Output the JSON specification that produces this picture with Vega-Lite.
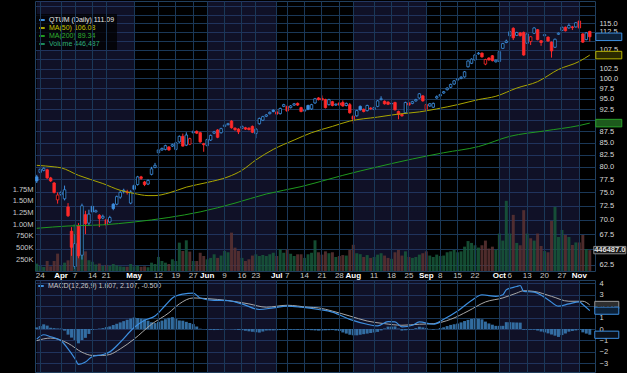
{
"$schema": "https://vega.github.io/schema/vega-lite/v6.json",
"background": "#000000",
"padding": 0,
"spacing": -2,
"config": {
  "view": {"stroke": "#21405f", "strokeWidth": 1},
  "axis": {"labelFont": "Liberation Sans", "labelColor": "#cfcfcf", "labelFontSize": 7.5, "ticks": false, "domain": false, "gridColor": "#1a3858", "gridOpacity": 1, "gridWidth": 1},
  "legend": {"labelFont": "Liberation Sans"},
  "concat": {"spacing": -2}
},
"datasets": {
  "months": [
    {"s": "2025-03-21", "e": "2025-05-01"},
    {"s": "2025-06-02", "e": "2025-07-01"},
    {"s": "2025-08-01", "e": "2025-09-02"},
    {"s": "2025-10-01", "e": "2025-11-03"}
  ],
  "tags": [
    {"d": "2025-11-06", "val": 111.09, "lab": "111.09", "k": "qtum"},
    {"d": "2025-11-06", "val": 106.08, "lab": "106.08", "k": "ma50"},
    {"d": "2025-11-06", "val": 89.34, "lab": "89.34", "k": "ma200"}
  ],
  "vtag": [{"d": "2025-11-06", "v": 446487, "lab": "446487.0"}],
  "mtags": [
    {"d": "2025-11-06", "val": 2.107, "lab": "2.107", "k": "s"},
    {"d": "2025-11-06", "val": 1.607, "lab": "1.607", "k": "m"},
    {"d": "2025-11-06", "val": -0.5, "lab": "-0.500", "k": "h"}
  ],
  "px": [
{"d":"2025-03-21","o":78.0,"h":78.4,"l":76.8,"c":77.2,"v":157000,"hh":0.14,"ma50":80.3,"ma200":68.5,"m":-0.88,"s":-1.02},
{"d":"2025-03-24","o":78.9,"h":79.7,"l":78.7,"c":79.5,"v":107000,"hh":0.26},
{"d":"2025-03-25","o":79.3,"h":79.9,"l":79.1,"c":79.7,"v":86000,"hh":0.41,"m":-0.5},
{"d":"2025-03-26","o":79.4,"h":79.6,"l":77.6,"c":77.8,"v":214000,"hh":0.30},
{"d":"2025-03-27","o":77.8,"h":78.0,"l":77.0,"c":77.2,"v":100000,"hh":0.11,"m":-0.68,"s":-0.79},
{"d":"2025-03-28","o":76.8,"h":77.0,"l":74.8,"c":75.0,"v":214000,"hh":0.08,"ma50":80.0},
{"d":"2025-03-31","o":73.6,"h":75.0,"l":72.9,"c":74.5,"v":371000,"hh":0.05},
{"d":"2025-04-01","o":74.6,"h":75.3,"l":74.3,"c":75.0,"v":107000,"hh":0.05,"ma50":79.8,"m":-1.02},
{"d":"2025-04-02","o":73.8,"h":76.3,"l":73.5,"c":75.5,"v":178000,"hh":-0.14},
{"d":"2025-04-03","o":72.3,"h":73.0,"l":70.5,"c":70.7,"v":228000,"hh":-0.49,"ma200":68.9,"m":-1.74,"s":-1.25},
{"d":"2025-04-04","o":68.0,"h":68.7,"l":63.9,"c":65.3,"v":560000,"hh":-0.75},
{"d":"2025-04-07","o":62.2,"h":67.5,"l":61.8,"c":65.9,"v":1000000,"hh":-0.96,"m":-2.6},
{"d":"2025-04-08","o":68.9,"h":69.4,"l":63.5,"c":63.9,"v":760000,"hh":-1.25,"ma50":78.3,"m":-3.09},
{"d":"2025-04-09","o":64.0,"h":72.9,"l":63.3,"c":72.5,"v":900000,"hh":-0.97,"s":-2.03},
{"d":"2025-04-10","o":70.9,"h":71.6,"l":67.5,"c":69.3,"v":420000,"hh":-0.77,"m":-2.89},
{"d":"2025-04-11","o":69.4,"h":71.8,"l":69.0,"c":71.0,"v":230000,"hh":-0.43},
{"d":"2025-04-14","o":72.4,"h":72.6,"l":71.2,"c":71.4,"v":200000,"hh":-0.09,"m":-2.4,"s":-2.31},
{"d":"2025-04-15","o":71.4,"h":71.8,"l":71.3,"c":71.6,"v":140000,"hh":-0.02},
{"d":"2025-04-16","o":70.8,"h":71.0,"l":68.7,"c":70.2,"v":160000,"hh":0.04},
{"d":"2025-04-17","o":70.3,"h":70.9,"l":70.1,"c":70.6,"v":110000,"hh":0.08,"ma50":76.7,"ma200":69.1,"m":-2.23,"s":-2.31},
{"d":"2025-04-21","o":70.0,"h":70.2,"l":68.4,"c":69.1,"v":130000,"hh":0.17},
{"d":"2025-04-22","o":69.6,"h":70.7,"l":69.4,"c":70.4,"v":110000,"hh":0.23,"m":-2.0,"s":-2.23},
{"d":"2025-04-23","o":72.8,"h":73.0,"l":71.7,"c":72.0,"v":150000,"hh":0.35},
{"d":"2025-04-24","o":72.8,"h":74.4,"l":72.6,"c":74.2,"v":120000,"hh":0.46},
{"d":"2025-04-25","o":74.1,"h":75.3,"l":73.8,"c":75.0,"v":100000,"hh":0.58,"ma50":75.4,"m":-1.16,"s":-1.74},
{"d":"2025-04-28","o":75.2,"h":75.7,"l":74.8,"c":75.4,"v":90000,"hh":0.69},
{"d":"2025-04-29","o":75.1,"h":75.5,"l":74.6,"c":75.0,"v":90000,"hh":0.81},
{"d":"2025-04-30","o":73.0,"h":75.4,"l":72.8,"c":75.1,"v":150000,"hh":0.92},
{"d":"2025-05-01","o":76.3,"h":76.5,"l":75.4,"c":75.6,"v":100000,"hh":1.01,"ma50":74.8,"ma200":69.6,"m":0.13,"s":-0.88},
{"d":"2025-05-02","o":76.5,"h":78.2,"l":76.3,"c":78.0,"v":110000,"hh":0.96},
{"d":"2025-05-05","o":78.0,"h":78.2,"l":77.4,"c":77.7,"v":90000,"hh":0.91},
{"d":"2025-05-06","o":77.0,"h":77.2,"l":76.2,"c":76.5,"v":100000,"hh":0.86,"m":0.76},
{"d":"2025-05-07","o":76.6,"h":77.5,"l":76.4,"c":77.3,"v":80000,"hh":0.73,"ma50":74.4},
{"d":"2025-05-08","o":78.5,"h":80.0,"l":78.3,"c":79.6,"v":178000,"hh":0.59,"s":0.42},
{"d":"2025-05-09","o":79.9,"h":80.8,"l":79.7,"c":80.3,"v":150000,"hh":0.52,"ma50":74.4,"m":1.14},
{"d":"2025-05-12","o":82.9,"h":83.7,"l":82.5,"c":83.5,"v":300000,"hh":0.63},
{"d":"2025-05-13","o":83.5,"h":84.0,"l":83.3,"c":83.8,"v":214000,"hh":0.74},
{"d":"2025-05-14","o":83.6,"h":84.6,"l":83.4,"c":84.4,"v":178000,"hh":0.86,"m":2.08},
{"d":"2025-05-15","o":84.1,"h":84.3,"l":83.3,"c":83.5,"v":150000,"hh":0.98,"ma50":74.9,"ma200":70.4,"s":1.42},
{"d":"2025-05-16","o":84.3,"h":84.8,"l":84.1,"c":84.6,"v":250000,"hh":1.04,"m":2.72},
{"d":"2025-05-19","o":83.6,"h":85.2,"l":83.4,"c":85.0,"v":214000,"hh":0.89},
{"d":"2025-05-20","o":85.2,"h":86.6,"l":85.0,"c":86.4,"v":606000,"hh":0.75,"s":2.2},
{"d":"2025-05-21","o":86.4,"h":87.0,"l":84.2,"c":84.3,"v":428000,"hh":0.73,"m":3.06},
{"d":"2025-05-22","o":84.5,"h":87.3,"l":84.3,"c":86.7,"v":656000,"hh":0.63,"ma50":76.0},
{"d":"2025-05-23","o":84.7,"h":86.1,"l":84.5,"c":85.9,"v":415000,"hh":0.53},
{"d":"2025-05-27","o":87.2,"h":87.8,"l":87.0,"c":87.4,"v":214000,"hh":0.43,"m":3.15,"s":2.72},
{"d":"2025-05-28","o":87.5,"h":87.7,"l":86.9,"c":87.1,"v":214000,"hh":0.22},
{"d":"2025-05-29","o":87.2,"h":87.4,"l":85.0,"c":85.2,"v":390000,"hh":0.03,"ma200":71.4,"m":2.72},
{"d":"2025-05-30","o":84.8,"h":85.0,"l":83.1,"c":84.6,"v":321000,"hh":-0.01},
{"d":"2025-06-02","o":84.4,"h":85.9,"l":84.2,"c":85.7,"v":250000,"hh":-0.05,"ma50":76.9,"s":2.66},
{"d":"2025-06-03","o":85.6,"h":86.8,"l":85.4,"c":86.6,"v":280000,"hh":-0.07},
{"d":"2025-06-04","o":87.1,"h":87.6,"l":86.9,"c":87.4,"v":357000,"hh":-0.09,"m":2.51},
{"d":"2025-06-05","o":87.8,"h":88.0,"l":86.0,"c":86.2,"v":280000,"hh":-0.07},
{"d":"2025-06-06","o":87.2,"h":88.3,"l":87.0,"c":88.1,"v":330000,"hh":-0.05},
{"d":"2025-06-09","o":88.6,"h":89.1,"l":88.4,"c":88.9,"v":428000,"hh":-0.02},
{"d":"2025-06-10","o":89.0,"h":89.4,"l":88.8,"c":89.2,"v":400000,"hh":0.0,"ma50":78.0,"m":2.49,"s":2.49},
{"d":"2025-06-11","o":89.8,"h":90.0,"l":88.1,"c":88.3,"v":820000,"hh":-0.02},
{"d":"2025-06-12","o":88.2,"h":88.4,"l":87.6,"c":87.9,"v":499000,"hh":-0.04,"ma200":73.0},
{"d":"2025-06-13","o":88.0,"h":88.2,"l":86.9,"c":87.4,"v":428000,"hh":-0.08},
{"d":"2025-06-16","o":88.2,"h":88.8,"l":88.0,"c":88.6,"v":280000,"hh":-0.1,"ma50":79.3,"m":2.2},
{"d":"2025-06-17","o":88.3,"h":88.5,"l":87.8,"c":88.0,"v":214000,"hh":-0.15},
{"d":"2025-06-18","o":88.2,"h":88.4,"l":87.7,"c":87.9,"v":250000,"hh":-0.2,"s":2.2},
{"d":"2025-06-20","o":88.6,"h":88.8,"l":87.1,"c":87.3,"v":330000,"hh":-0.24},
{"d":"2025-06-23","o":87.0,"h":88.2,"l":86.0,"c":88.0,"v":357000,"hh":-0.28,"ma50":81.4},
{"d":"2025-06-24","o":89.2,"h":90.6,"l":89.0,"c":90.4,"v":321000,"hh":-0.31,"m":1.71},
{"d":"2025-06-25","o":90.0,"h":91.0,"l":89.8,"c":90.8,"v":342000,"hh":-0.22},
{"d":"2025-06-26","o":90.9,"h":91.4,"l":90.7,"c":91.2,"v":321000,"hh":-0.13,"ma200":74.7,"s":1.91},
{"d":"2025-06-27","o":91.5,"h":92.0,"l":91.3,"c":91.8,"v":357000,"hh":-0.12},
{"d":"2025-06-30","o":92.3,"h":92.5,"l":91.8,"c":92.0,"v":390000,"hh":-0.12,"ma50":83.6,"m":1.85},
{"d":"2025-07-01","o":91.9,"h":92.6,"l":91.2,"c":91.4,"v":321000,"hh":-0.11},
{"d":"2025-07-02","o":91.5,"h":92.9,"l":91.3,"c":92.7,"v":464000,"hh":-0.09},
{"d":"2025-07-03","o":93.2,"h":93.8,"l":93.0,"c":93.6,"v":390000,"hh":-0.09},
{"d":"2025-07-07","o":93.2,"h":93.4,"l":91.9,"c":92.1,"v":464000,"hh":-0.08,"m":2.0,"s":2.08},
{"d":"2025-07-08","o":92.9,"h":93.5,"l":92.7,"c":93.3,"v":370000,"hh":-0.07},
{"d":"2025-07-09","o":93.5,"h":94.0,"l":93.3,"c":93.8,"v":321000,"hh":-0.06,"ma50":85.6},
{"d":"2025-07-10","o":93.9,"h":94.1,"l":93.3,"c":93.5,"v":357000,"hh":-0.07},
{"d":"2025-07-11","o":92.9,"h":93.1,"l":91.8,"c":92.0,"v":357000,"hh":-0.06,"ma200":76.1,"m":1.91},
{"d":"2025-07-14","o":92.1,"h":92.5,"l":91.9,"c":92.3,"v":280000,"hh":-0.07},
{"d":"2025-07-15","o":93.4,"h":93.6,"l":92.3,"c":92.5,"v":357000,"hh":-0.08,"s":1.91},
{"d":"2025-07-16","o":92.6,"h":93.8,"l":92.4,"c":93.6,"v":390000,"hh":-0.1,"ma50":87.2},
{"d":"2025-07-17","o":94.0,"h":95.2,"l":93.8,"c":95.0,"v":656000,"hh":-0.12,"ma200":76.8},
{"d":"2025-07-18","o":95.2,"h":95.4,"l":94.6,"c":94.8,"v":400000,"hh":-0.14,"m":1.71,"s":1.85},
{"d":"2025-07-21","o":95.1,"h":95.8,"l":94.6,"c":94.7,"v":350000,"hh":-0.13},
{"d":"2025-07-22","o":94.8,"h":95.0,"l":92.7,"c":92.9,"v":420000,"hh":-0.11},
{"d":"2025-07-23","o":93.6,"h":95.0,"l":93.4,"c":94.8,"v":380000,"hh":-0.1},
{"d":"2025-07-24","o":94.3,"h":94.5,"l":93.2,"c":93.4,"v":400000,"hh":-0.09,"ma50":88.6,"m":1.48,"s":1.57},
{"d":"2025-07-25","o":93.5,"h":93.9,"l":93.3,"c":93.7,"v":300000,"hh":-0.13},
{"d":"2025-07-28","o":94.0,"h":94.2,"l":93.3,"c":93.5,"v":320000,"hh":-0.17},
{"d":"2025-07-29","o":94.1,"h":94.6,"l":93.1,"c":93.3,"v":340000,"hh":-0.3,"ma200":78.3},
{"d":"2025-07-30","o":93.4,"h":94.1,"l":93.2,"c":93.9,"v":330000,"hh":-0.4},
{"d":"2025-07-31","o":93.6,"h":94.0,"l":91.5,"c":91.7,"v":450000,"hh":-0.5,"ma50":89.8,"m":0.85,"s":1.14},
{"d":"2025-08-01","o":90.9,"h":91.2,"l":89.2,"c":90.2,"v":560000,"hh":-0.55},
{"d":"2025-08-04","o":91.0,"h":92.4,"l":90.8,"c":92.2,"v":380000,"hh":-0.55},
{"d":"2025-08-05","o":93.2,"h":93.4,"l":92.2,"c":92.4,"v":360000,"hh":-0.5},
{"d":"2025-08-06","o":92.5,"h":92.7,"l":91.8,"c":92.0,"v":300000,"hh":-0.45},
{"d":"2025-08-07","o":92.2,"h":93.6,"l":92.0,"c":93.4,"v":340000,"hh":-0.4,"m":0.42,"s":0.7},
{"d":"2025-08-08","o":92.8,"h":93.0,"l":92.4,"c":92.6,"v":280000,"hh":-0.35},
{"d":"2025-08-11","o":92.5,"h":93.1,"l":92.3,"c":92.9,"v":300000,"hh":-0.3},
{"d":"2025-08-12","o":93.2,"h":94.7,"l":93.0,"c":94.5,"v":350000,"hh":-0.25,"ma50":90.7,"ma200":80.0,"m":0.27},
{"d":"2025-08-13","o":94.8,"h":95.6,"l":94.6,"c":95.0,"v":380000,"hh":-0.12},
{"d":"2025-08-14","o":94.4,"h":94.6,"l":93.6,"c":93.8,"v":330000,"hh":0.05,"s":0.47},
{"d":"2025-08-15","o":94.2,"h":94.4,"l":93.5,"c":93.7,"v":280000,"hh":0.21,"m":0.65},
{"d":"2025-08-18","o":93.8,"h":94.1,"l":93.6,"c":93.9,"v":260000,"hh":0.21},
{"d":"2025-08-19","o":94.1,"h":94.3,"l":92.2,"c":92.4,"v":400000,"hh":0.23,"m":0.62},
{"d":"2025-08-20","o":92.0,"h":92.2,"l":90.2,"c":91.3,"v":450000,"hh":0.04,"ma50":91.4},
{"d":"2025-08-21","o":91.3,"h":91.5,"l":90.8,"c":91.0,"v":330000,"hh":-0.14,"m":0.19,"s":0.33},
{"d":"2025-08-22","o":91.7,"h":94.3,"l":91.5,"c":94.1,"v":420000,"hh":-0.11},
{"d":"2025-08-25","o":94.0,"h":94.2,"l":93.3,"c":93.5,"v":300000,"hh":-0.09},
{"d":"2025-08-26","o":93.9,"h":94.5,"l":93.7,"c":94.3,"v":280000,"hh":-0.05,"ma200":81.6,"m":0.33},
{"d":"2025-08-27","o":94.5,"h":95.0,"l":94.3,"c":94.8,"v":300000,"hh":0.08},
{"d":"2025-08-28","o":95.2,"h":96.4,"l":95.0,"c":96.2,"v":350000,"hh":0.2,"ma50":91.9,"m":0.62,"s":0.42},
{"d":"2025-08-29","o":95.7,"h":95.9,"l":94.3,"c":94.5,"v":380000,"hh":0.14},
{"d":"2025-09-02","o":92.5,"h":93.8,"l":92.0,"c":93.6,"v":420000,"hh":0.08},
{"d":"2025-09-03","o":93.3,"h":94.0,"l":93.1,"c":93.8,"v":330000,"hh":0.01},
{"d":"2025-09-04","o":93.0,"h":94.1,"l":92.8,"c":93.9,"v":300000,"hh":-0.05,"m":0.42,"s":0.47},
{"d":"2025-09-05","o":95.2,"h":95.8,"l":95.0,"c":95.5,"v":350000,"hh":0.01,"ma50":92.6},
{"d":"2025-09-08","o":95.7,"h":96.2,"l":95.5,"c":96.0,"v":320000,"hh":0.09},
{"d":"2025-09-09","o":96.4,"h":96.9,"l":96.2,"c":96.7,"v":330000,"hh":0.15,"ma200":82.9,"m":0.85},
{"d":"2025-09-10","o":97.2,"h":97.8,"l":97.0,"c":97.6,"v":400000,"hh":0.26},
{"d":"2025-09-11","o":97.8,"h":98.7,"l":97.6,"c":98.5,"v":420000,"hh":0.36,"s":0.85},
{"d":"2025-09-12","o":98.6,"h":99.6,"l":98.4,"c":99.4,"v":450000,"hh":0.42},
{"d":"2025-09-15","o":99.6,"h":100.1,"l":99.4,"c":99.9,"v":400000,"hh":0.48,"ma50":93.6,"m":1.57},
{"d":"2025-09-16","o":100.0,"h":100.6,"l":99.8,"c":100.3,"v":420000,"hh":0.58},
{"d":"2025-09-17","o":100.4,"h":101.9,"l":100.2,"c":101.7,"v":520000,"hh":0.7},
{"d":"2025-09-18","o":103.0,"h":104.7,"l":102.8,"c":104.5,"v":640000,"hh":0.8,"s":1.57},
{"d":"2025-09-19","o":103.9,"h":105.2,"l":103.7,"c":105.0,"v":600000,"hh":0.88,"m":2.49},
{"d":"2025-09-22","o":104.8,"h":106.3,"l":104.6,"c":106.1,"v":550000,"hh":0.92},
{"d":"2025-09-23","o":106.4,"h":106.9,"l":106.2,"c":106.6,"v":500000,"hh":0.9,"ma50":94.8,"ma200":84.2},
{"d":"2025-09-24","o":106.6,"h":106.8,"l":105.4,"c":105.6,"v":550000,"hh":0.85,"m":3.0},
{"d":"2025-09-25","o":103.7,"h":105.1,"l":103.4,"c":104.9,"v":650000,"hh":0.65,"s":2.37},
{"d":"2025-09-26","o":105.3,"h":105.5,"l":104.6,"c":104.8,"v":480000,"hh":0.49},
{"d":"2025-09-29","o":105.9,"h":106.1,"l":104.4,"c":104.6,"v":520000,"hh":0.38},
{"d":"2025-09-30","o":104.3,"h":104.9,"l":104.1,"c":104.7,"v":450000,"hh":0.28,"ma50":95.6,"m":2.86},
{"d":"2025-10-01","o":104.4,"h":107.2,"l":104.2,"c":107.0,"v":800000,"hh":0.28},
{"d":"2025-10-02","o":107.9,"h":109.4,"l":107.7,"c":109.2,"v":650000,"hh":0.28,"m":3.0,"s":2.72},
{"d":"2025-10-03","o":109.5,"h":110.3,"l":109.3,"c":109.9,"v":1500000,"hh":0.6,"m":3.43},
{"d":"2025-10-06","o":111.4,"h":112.8,"l":111.2,"c":112.5,"v":800000,"hh":0.6,"ma200":86.4},
{"d":"2025-10-07","o":113.5,"h":113.8,"l":110.2,"c":110.8,"v":1200000,"hh":0.58},
{"d":"2025-10-08","o":111.5,"h":112.5,"l":111.3,"c":112.3,"v":600000,"hh":0.57,"ma50":97.6,"m":3.72,"s":3.15},
{"d":"2025-10-09","o":112.2,"h":112.4,"l":111.2,"c":111.4,"v":550000,"hh":0.56,"m":3.81},
{"d":"2025-10-10","o":112.3,"h":112.6,"l":105.9,"c":106.1,"v":1300000,"hh":-0.06,"m":3.29,"s":3.35},
{"d":"2025-10-13","o":109.3,"h":112.1,"l":109.1,"c":111.9,"v":800000,"hh":-0.06},
{"d":"2025-10-14","o":109.8,"h":111.3,"l":108.8,"c":111.1,"v":700000,"hh":-0.06},
{"d":"2025-10-15","o":112.1,"h":113.8,"l":111.9,"c":113.6,"v":650000,"hh":-0.06,"m":3.23,"s":3.29},
{"d":"2025-10-16","o":113.1,"h":113.3,"l":110.1,"c":110.3,"v":800000,"hh":-0.13,"ma50":99.2},
{"d":"2025-10-17","o":110.0,"h":110.2,"l":108.6,"c":109.5,"v":534000,"hh":-0.22},
{"d":"2025-10-20","o":111.4,"h":111.9,"l":111.2,"c":111.7,"v":427000,"hh":-0.29,"ma200":87.6},
{"d":"2025-10-21","o":111.0,"h":111.2,"l":109.7,"c":109.9,"v":400000,"hh":-0.38,"m":2.57},
{"d":"2025-10-22","o":109.6,"h":109.8,"l":105.4,"c":107.2,"v":1070000,"hh":-0.48,"s":2.86},
{"d":"2025-10-23","o":108.2,"h":110.6,"l":108.0,"c":110.4,"v":1370000,"hh":-0.58},
{"d":"2025-10-24","o":111.8,"h":112.3,"l":111.6,"c":112.1,"v":727000,"hh":-0.69,"ma50":102.3,"m":2.0},
{"d":"2025-10-27","o":112.9,"h":114.0,"l":112.7,"c":113.8,"v":877000,"hh":-0.53},
{"d":"2025-10-28","o":113.8,"h":114.0,"l":112.6,"c":112.8,"v":770000,"hh":-0.39},
{"d":"2025-10-29","o":113.6,"h":114.9,"l":113.4,"c":114.3,"v":727000,"hh":-0.23,"m":2.2,"s":2.43},
{"d":"2025-10-30","o":113.9,"h":114.2,"l":113.0,"c":113.7,"v":556000,"hh":-0.17},
{"d":"2025-10-31","o":113.9,"h":115.3,"l":113.7,"c":115.1,"v":610000,"hh":-0.12},
{"d":"2025-11-03","o":115.6,"h":115.8,"l":113.4,"c":113.6,"v":610000,"hh":-0.06,"ma50":104.4,"ma200":88.8,"m":2.37},
{"d":"2025-11-04","o":111.9,"h":112.1,"l":109.4,"c":109.6,"v":770000,"hh":-0.29,"m":2.14,"s":2.43},
{"d":"2025-11-05","o":110.3,"h":112.4,"l":110.1,"c":112.2,"v":470000,"hh":-0.4},
{"d":"2025-11-06","o":112.6,"h":112.8,"l":109.8,"c":111.09,"v":446487,"hh":-0.5,"ma50":106.08,"ma200":89.34,"m":1.607,"s":2.107}
  ]
},
"resolve": {"scale": {"color": "independent", "fill": "independent", "stroke": "independent"}},
"vconcat": [
{
  "width": 560,
  "height": 270,
  "data": {"name": "px"},
  "transform": [{"window": [{"op": "lag", "field": "c", "as": "pc"}], "sort": [{"field": "d"}]}],
  "resolve": {"scale": {"y": "independent"}},
  "layer": [
    {
      "data": {"name": "months"},
      "mark": {"type": "rect", "fill": "#2b2c66", "fillOpacity": 0.38},
      "encoding": {
        "x": {"field": "s", "type": "ordinal", "title": null,
          "scale": {"type": "band", "paddingInner": 0, "paddingOuter": 0.5, "align": 0},
          "axis": {
            "values": ["2025-03-24","2025-04-01","2025-04-07","2025-04-14","2025-04-21","2025-05-01","2025-05-12","2025-05-19","2025-05-27","2025-06-02","2025-06-09","2025-06-16","2025-06-23","2025-07-01","2025-07-07","2025-07-14","2025-07-21","2025-07-28","2025-08-01","2025-08-11","2025-08-18","2025-08-25","2025-09-02","2025-09-08","2025-09-15","2025-09-22","2025-10-01","2025-10-06","2025-10-13","2025-10-20","2025-10-27","2025-11-03"],
            "labelExpr": "indexof(['2025-04-01','2025-05-01','2025-06-02','2025-07-01','2025-08-01','2025-09-02','2025-10-01','2025-11-03'], datum.value) >= 0 ? utcFormat(toDate(datum.value), '%b') : utcFormat(toDate(datum.value), '%-d')",
            "labelFontWeight": {"condition": {"test": "indexof(['2025-04-01','2025-05-01','2025-06-02','2025-07-01','2025-08-01','2025-09-02','2025-10-01','2025-11-03'], datum.value) >= 0", "value": "bold"}, "value": "normal"},
            "labelColor": {"condition": {"test": "indexof(['2025-04-01','2025-05-01','2025-06-02','2025-07-01','2025-08-01','2025-09-02','2025-10-01','2025-11-03'], datum.value) >= 0", "value": "#ffffff"}, "value": "#c8c8c8"},
            "labelAngle": 0, "labelFontSize": 8, "labelPadding": 0, "labelOverlap": false,
            "grid": true, "bandPosition": 0.5, "title": null
          }
        },
        "x2": {"field": "e"}
      }
    },
    {
      "layer": [
        {
          "mark": {"type": "bar", "width": {"band": 0.85}, "opacity": 0.85},
          "encoding": {
            "x": {"field": "d", "type": "ordinal", "title": null},
            "y": {"field": "v", "type": "quantitative", "title": null,
              "scale": {"domain": [0, 5770000], "nice": false},
              "axis": {"orient": "left", "values": [250000, 500000, 750000, 1000000, 1250000, 1500000, 1750000],
                "labelExpr": "datum.value >= 1000000 ? format(datum.value / 1000000, '.2f') + 'M' : format(datum.value / 1000, 'd') + 'K'",
                "grid": false, "minExtent": 34, "maxExtent": 34, "labelPadding": 2, "labelColor": "#c8c8c8", "title": null}},
            "color": {"condition": {"test": "datum.pc != null && datum.c < datum.pc", "value": "#5c3232"}, "value": "#17593b"}
          }
        },
        {
          "data": {"name": "vtag"},
          "mark": {"type": "point", "shape": "M-1,-0.23L1,-0.23L1,0.23L-1,0.23Z", "size": 1024, "filled": true, "fill": "#1a1a1a", "stroke": "#8a8a8a", "strokeWidth": 1, "opacity": 1, "xOffset": 20},
          "encoding": {
            "x": {"field": "d", "type": "ordinal", "title": null},
            "y": {"field": "v", "type": "quantitative", "title": null}
          }
        },
        {
          "data": {"name": "vtag"},
          "mark": {"type": "text", "font": "Liberation Sans", "fontSize": 7.5, "fontWeight": "bold", "fill": "#e0e0e0", "xOffset": 20, "align": "center", "baseline": "middle"},
          "encoding": {
            "x": {"field": "d", "type": "ordinal", "title": null},
            "y": {"field": "v", "type": "quantitative", "title": null},
            "text": {"field": "lab"}
          }
        }
      ]
    },
    {
      "layer": [
        {
          "mark": {"type": "rule", "strokeWidth": 1},
          "encoding": {
            "x": {"field": "d", "type": "ordinal", "title": null},
            "y": {"field": "l", "type": "quantitative", "title": null,
              "scale": {"type": "log", "domain": [61.5, 121.6], "nice": false},
              "axis": {"orient": "right", "title": null, "values": [62.5,65,67.5,70,72.5,75,77.5,80,82.5,85,87.5,90,92.5,95,97.5,100,102.5,105,107.5,110,112.5,115,117.5,120],
                "labelExpr": "indexof([65,90,105,110,117.5,120], datum.value) >= 0 ? '' : format(datum.value, '.1f')",
                "grid": true, "labelPadding": 4, "labelFontSize": 7.5, "labelColor": "#d8d8d8", "labelOverlap": false}},
            "y2": {"field": "h"},
            "color": {"condition": {"test": "datum.pc != null && datum.c < datum.pc", "value": "#ff2a2a"}, "value": "#3d8fe0"}
          }
        },
        {
          "mark": {"type": "bar", "width": {"band": 0.72}, "strokeWidth": 0.8},
          "encoding": {
            "x": {"field": "d", "type": "ordinal", "title": null},
            "y": {"field": "o", "type": "quantitative", "title": null},
            "y2": {"field": "c"},
            "stroke": {"condition": {"test": "datum.pc != null && datum.c < datum.pc", "value": "#ff2a2a"}, "value": "#3d8fe0"},
            "fill": {"condition": [{"test": "datum.c >= datum.o", "value": "#000000"}, {"test": "datum.pc != null && datum.c < datum.pc", "value": "#ff2a2a"}], "value": "#3d8fe0"}
          }
        },
        {
          "transform": [{"fold": ["ma50", "ma200"], "as": ["series", "val"]}, {"filter": "isValid(datum.val)"}],
          "mark": {"type": "line", "strokeWidth": 1, "interpolate": "monotone"},
          "encoding": {
            "x": {"field": "d", "type": "ordinal", "title": null},
            "y": {"field": "val", "type": "quantitative", "title": null},
            "color": {"field": "series", "type": "nominal",
              "scale": {"domain": ["qtum", "ma50", "ma200", "vol"], "range": ["#3d8fe0", "#aaa600", "#1f9a1f", "#1c8a5a"]},
              "legend": {"title": null, "orient": "none", "legendX": 1, "legendY": 13,
                "labelExpr": "datum.value == 'qtum' ? 'QTUM (Daily) 111.09' : datum.value == 'ma50' ? 'MA(50) 106.08' : datum.value == 'ma200' ? 'MA(200) 89.34' : 'Volume 446,487'",
                "labelFontSize": 7,
                "labelColor": {"expr": "datum.value == 'ma50' ? '#c8c400' : datum.value == 'ma200' ? '#30b030' : datum.value == 'vol' ? '#2fb078' : '#e8e8e8'"},
                "symbolType": "stroke", "symbolSize": 30, "symbolStrokeWidth": 2,
                "rowPadding": 0, "padding": 2, "fillColor": "rgba(0,0,0,0.75)", "labelOffset": 3}}
          }
        },
        {
          "data": {"name": "tags"},
          "mark": {"type": "point", "shape": "M-1,-0.29L1,-0.29L1,0.29L-1,0.29Z", "size": 676, "filled": true, "strokeWidth": 1, "opacity": 1, "xOffset": 19},
          "encoding": {
            "x": {"field": "d", "type": "ordinal", "title": null},
            "y": {"field": "val", "type": "quantitative", "title": null},
            "fill": {"field": "k", "type": "nominal", "scale": {"domain": ["qtum", "ma50", "ma200"], "range": ["#0c2138", "#2b2a00", "#1d5a1d"]}, "legend": null},
            "stroke": {"field": "k", "type": "nominal", "scale": {"domain": ["qtum", "ma50", "ma200"], "range": ["#3d8fe0", "#b8b400", "#2aa02a"]}, "legend": null}
          }
        },
        {
          "data": {"name": "tags"},
          "mark": {"type": "text", "font": "Liberation Sans", "fontSize": 7.5, "fontWeight": "bold", "xOffset": 19, "align": "center", "baseline": "middle"},
          "encoding": {
            "x": {"field": "d", "type": "ordinal", "title": null},
            "y": {"field": "val", "type": "quantitative", "title": null},
            "text": {"field": "lab"},
            "fill": {"field": "k", "type": "nominal", "scale": {"domain": ["qtum", "ma50", "ma200"], "range": ["#ffffff", "#e8e07a", "#d8f0d8"]}, "legend": null}
          }
        }
      ]
    }
  ]
},
{
  "width": 560,
  "height": 92,
  "data": {"name": "px"},
  "layer": [
    {
      "data": {"name": "months"},
      "mark": {"type": "rect", "fill": "#2b2c66", "fillOpacity": 0.38},
      "encoding": {
        "x": {"field": "s", "type": "ordinal", "title": null,
          "scale": {"type": "band", "paddingInner": 0, "paddingOuter": 0.5, "align": 0},
          "axis": {
            "values": ["2025-03-24","2025-04-01","2025-04-07","2025-04-14","2025-04-21","2025-05-01","2025-05-12","2025-05-19","2025-05-27","2025-06-02","2025-06-09","2025-06-16","2025-06-23","2025-07-01","2025-07-07","2025-07-14","2025-07-21","2025-07-28","2025-08-01","2025-08-11","2025-08-18","2025-08-25","2025-09-02","2025-09-08","2025-09-15","2025-09-22","2025-10-01","2025-10-06","2025-10-13","2025-10-20","2025-10-27","2025-11-03"],
            "labels": false, "grid": true, "bandPosition": 0.5, "title": null
          }
        },
        "x2": {"field": "e"}
      }
    },
    {
      "mark": {"type": "bar", "width": {"band": 0.85}, "color": "#3778b0", "opacity": 0.9},
      "encoding": {
        "x": {"field": "d", "type": "ordinal", "title": null},
        "y": {"field": "hh", "type": "quantitative", "title": null,
          "scale": {"domain": [-3.76, 4.29], "nice": false, "zero": false},
          "axis": {"orient": "right", "title": null, "values": [-3, -2, -1, 0, 1, 2, 3, 4], "labelExpr": "datum.value == 2 ? '' : format(datum.value, 'd')", "grid": true, "labelPadding": 4, "labelColor": "#d8d8d8", "labelOverlap": false}}
      }
    },
    {
      "transform": [{"filter": "isValid(datum.s)"}],
      "mark": {"type": "line", "color": "#a8a8a8", "strokeWidth": 1, "interpolate": "monotone"},
      "encoding": {
        "x": {"field": "d", "type": "ordinal", "title": null},
        "y": {"field": "s", "type": "quantitative", "title": null,
          "axis": {"orient": "right", "title": null, "values": [-3, -2, -1, 0, 1, 2, 3, 4], "labelExpr": "datum.value == 2 ? '' : format(datum.value, 'd')", "grid": true, "labelPadding": 4, "labelColor": "#d8d8d8", "labelOverlap": false}}
      }
    },
    {
      "transform": [{"filter": "isValid(datum.m)"}],
      "mark": {"type": "line", "strokeWidth": 1.2, "interpolate": "monotone"},
      "encoding": {
        "x": {"field": "d", "type": "ordinal", "title": null},
        "y": {"field": "m", "type": "quantitative", "title": null,
          "axis": {"orient": "right", "title": null, "values": [-3, -2, -1, 0, 1, 2, 3, 4], "labelExpr": "datum.value == 2 ? '' : format(datum.value, 'd')", "grid": true, "labelPadding": 4, "labelColor": "#d8d8d8", "labelOverlap": false}},
        "color": {"datum": "macd", "type": "nominal", "scale": {"domain": ["macd"], "range": ["#3d8fe0"]},
          "legend": {"title": null, "orient": "none", "legendX": 1, "legendY": 1,
            "labelExpr": "'MACD(12,26,9) 1.607, 2.107, -0.500'", "labelFontSize": 7, "labelColor": "#c8c8c8",
            "symbolType": "stroke", "symbolSize": 30, "symbolStrokeWidth": 2, "padding": 1, "labelOffset": 3}}
      }
    },
    {
      "data": {"name": "mtags"},
      "mark": {"type": "point", "shape": "M-1,-0.3L1,-0.3L1,0.3L-1,0.3Z", "size": 576, "filled": true, "strokeWidth": 1, "opacity": 1, "xOffset": 17},
      "encoding": {
        "x": {"field": "d", "type": "ordinal", "title": null},
        "y": {"field": "val", "type": "quantitative", "title": null,
          "axis": {"orient": "right", "title": null, "values": [-3, -2, -1, 0, 1, 2, 3, 4], "labelExpr": "datum.value == 2 ? '' : format(datum.value, 'd')", "grid": true, "labelPadding": 4, "labelColor": "#d8d8d8", "labelOverlap": false}},
        "fill": {"field": "k", "type": "nominal", "scale": {"domain": ["s", "m", "h"], "range": ["#2e2e2e", "#0c2138", "#0a0f18"]}, "legend": null},
        "stroke": {"field": "k", "type": "nominal", "scale": {"domain": ["s", "m", "h"], "range": ["#9a9a9a", "#3d8fe0", "#3d8fe0"]}, "legend": null}
      }
    },
    {
      "data": {"name": "mtags"},
      "mark": {"type": "text", "font": "Liberation Sans", "fontSize": 7.5, "fontWeight": "bold", "xOffset": 17, "align": "center", "baseline": "middle"},
      "encoding": {
        "x": {"field": "d", "type": "ordinal", "title": null},
        "y": {"field": "val", "type": "quantitative", "title": null,
          "axis": {"orient": "right", "title": null, "values": [-3, -2, -1, 0, 1, 2, 3, 4], "labelExpr": "datum.value == 2 ? '' : format(datum.value, 'd')", "grid": true, "labelPadding": 4, "labelColor": "#d8d8d8", "labelOverlap": false}},
        "text": {"field": "lab"},
        "fill": {"field": "k", "type": "nominal", "scale": {"domain": ["s", "m", "h"], "range": ["#e8e8e8", "#ffffff", "#9cc8f0"]}, "legend": null}
      }
    }
  ]
}
]
}
